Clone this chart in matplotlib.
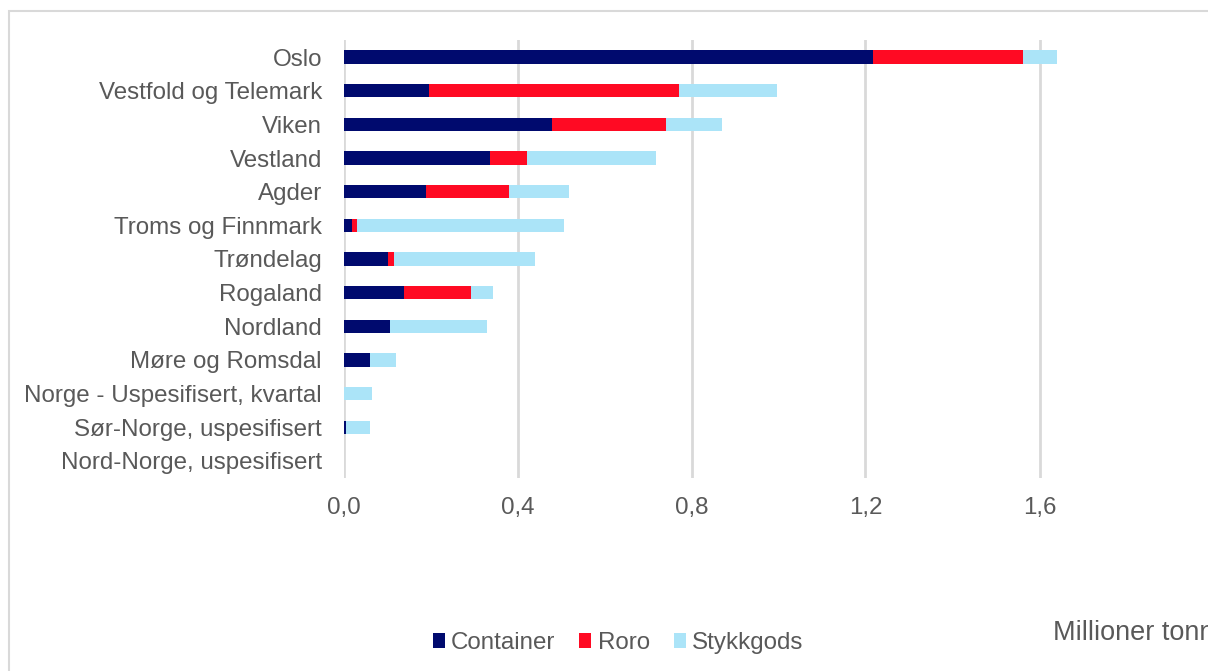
import matplotlib
matplotlib.use("Agg")
import matplotlib.pyplot as plt
from matplotlib.patches import Rectangle

plt.rcParams['font.family'] = ['Liberation Sans', 'DejaVu Sans']

regions = [
    "Oslo", "Vestfold og Telemark", "Viken", "Vestland", "Agder",
    "Troms og Finnmark", "Trøndelag", "Rogaland", "Nordland",
    "Møre og Romsdal", "Norge - Uspesifisert, kvartal",
    "Sør-Norge, uspesifisert", "Nord-Norge, uspesifisert",
]
container = [1.217, 0.196, 0.479, 0.337, 0.190, 0.020, 0.102, 0.138, 0.108, 0.060, 0.000, 0.005, 0.0]
roro      = [0.345, 0.575, 0.263, 0.084, 0.190, 0.011, 0.013, 0.155, 0.000, 0.000, 0.000, 0.000, 0.0]
stykkgods = [0.078, 0.225, 0.127, 0.297, 0.139, 0.476, 0.326, 0.051, 0.221, 0.061, 0.066, 0.056, 0.0]
series_names = ["Container", "Roro", "Stykkgods"]
colors = ["#000A6E", "#FF0A23", "#ABE4F8"]
xticks = [0.0, 0.4, 0.8, 1.2, 1.6]
xtick_labels = ["0,0", "0,4", "0,8", "1,2", "1,6"]
unit_label = "Millioner tonn"

W, H = 1208, 671
fig = plt.figure(figsize=(W / 100, H / 100), dpi=100)

# outer chart frame
fig.add_artist(Rectangle((8.5 / W, -0.1), 1.2, (H - 11) / H + 0.1,
                         transform=fig.transFigure, fill=False,
                         edgecolor="#D9D9D9", linewidth=1.5))

x0, x1 = 343.5, 343.5 + 435 * 2.0
y_top, y_bot = 40.2, 477.8
ax = fig.add_axes([x0 / W, 1 - y_bot / H, (x1 - x0) / W, (y_bot - y_top) / H])

ypos = list(range(len(regions)))
left = [0.0] * len(regions)
for vals, name, col in zip([container, roro, stykkgods], series_names, colors):
    ax.barh(ypos, vals, left=left, height=0.4, color=col, label=name, zorder=3)
    left = [l + v for l, v in zip(left, vals)]

ax.set_xlim(0, 2.0)
ax.set_ylim(len(regions) - 0.5, -0.5)
ax.set_yticks(ypos)
ax.set_yticklabels(regions)
ax.set_xticks(xticks)
ax.set_xticklabels(xtick_labels)
ax.tick_params(axis="both", length=0, labelsize=17.4, labelcolor="#595959")
ax.tick_params(axis="y", pad=15.5)
ax.tick_params(axis="x", pad=14)
ax.grid(axis="x", color="#D9D9D9", linewidth=2, zorder=0)
for s in ax.spines.values():
    s.set_visible(False)

handles, labels = ax.get_legend_handles_labels()
leg = fig.legend(handles, labels, loc="center", bbox_to_anchor=(618 / W, 1 - 643 / H),
                 ncol=3, frameon=False, fontsize=17.4, handlelength=0.5, handleheight=0.55,
                 handletextpad=0.25, columnspacing=1.0)
for t in leg.get_texts():
    t.set_color("#595959")

fig.text(1053 / W, 1 - 633 / H, unit_label, fontsize=19.5, color="#595959",
         ha="left", va="center")

fig.savefig("out.png", dpi=100)
